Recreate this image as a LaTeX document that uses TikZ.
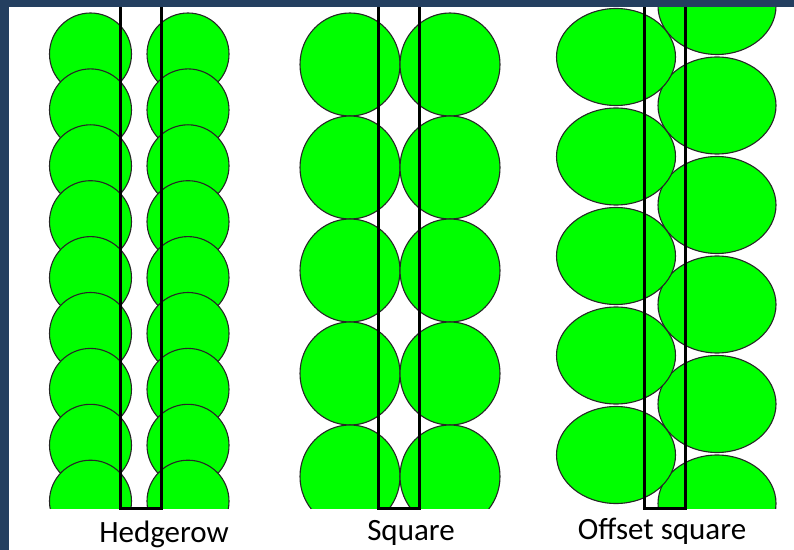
\documentclass[tikz,border=0pt]{standalone}
\usepackage{fontspec}
\setmainfont{Carlito}
\definecolor{ballgreen}{HTML}{00FF00}
\definecolor{frameblue}{HTML}{243F60}

\begin{document}
\begin{tikzpicture}[x=1bp,y=-1bp,
  ball/.style={fill=ballgreen,draw=black!85,line width=1.1bp},
  strip/.style={draw=black,line width=3bp},
  caption/.style={anchor=base,font=\fontsize{31bp}{36bp}\selectfont}]
\useasboundingbox (0,0) rectangle (794,550);
{
\begin{scope}
\clip (8,7) rectangle (794,508);
% hedgerow
\foreach \k in {0,...,8}{
\filldraw[ball] (90.5,54+55.9*\k) circle[radius=41];
\filldraw[ball] (188,54+55.9*\k) circle[radius=41];
}
% square
\foreach \k in {0,...,4}{
\filldraw[ball] (350,64.5+103*\k) circle[x radius=50,y radius=51.5];
\filldraw[ball] (450,64.5+103*\k) circle[x radius=50,y radius=51.5];
}
% offset square
\foreach \k in {0,...,5}{
\filldraw[ball] (717,6+99.5*\k) circle[x radius=59,y radius=48.5];
}
\foreach \k in {0,...,4}{
\filldraw[ball] (616,57+99.5*\k) circle[x radius=59.5,y radius=48.5];
}
\end{scope}
%
\draw[strip] (120,0) |- (161,508) -- (161,0);
\draw[strip] (378,0) |- (419,508) -- (419,0);
\draw[strip] (644,0) |- (685,508) -- (685,0);
%
\fill[frameblue] (0,0) rectangle (794,7);
\fill[frameblue] (0,0) rectangle (8.5,550);
%
\node[caption] (hedgerow) at (164,542) {Hedgerow};
\node[caption] (square) at (411,540) {Square};
\node[caption] (offset) at (662,539) {Offset square};
}
\end{tikzpicture}
\end{document}
